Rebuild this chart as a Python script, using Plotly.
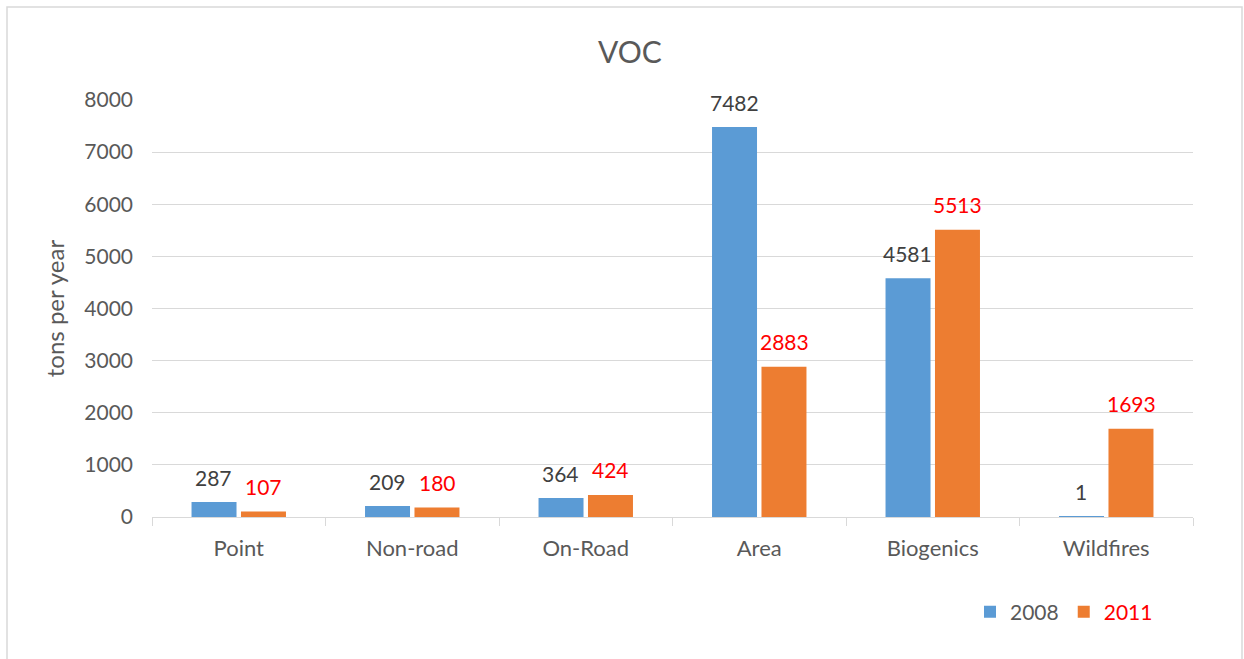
import plotly.graph_objects as go

categories = ["Point", "Non-road", "On-Road", "Area", "Biogenics", "Wildfires"]
series_2008 = [287, 209, 364, 7482, 4581, 1]
series_2011 = [107, 180, 424, 2883, 5513, 1693]
y_ticks = [0, 1000, 2000, 3000, 4000, 5000, 6000, 7000, 8000]

FONT = "Lato"
BLUE = "#5B9BD5"
ORANGE = "#ED7D31"
GREY = "#595959"
LINE = "#D9D9D9"

fig = go.Figure()
fig.add_trace(go.Bar(x=categories, y=series_2008, name="2008", marker_color=BLUE,
                     marker_line_width=0))
fig.add_trace(go.Bar(x=categories, y=series_2011,
                     name="<span style='color:#FF0000'>2011</span>",
                     marker_color=ORANGE, marker_line_width=0))

annotations = []
for c, v in zip(categories, series_2008):
    annotations.append(dict(x=c, y=v, xref="x", yref="y", text=str(v), showarrow=False,
                            xshift=-25, yshift=25, yanchor="middle",
                            font=dict(family=FONT, size=21, color="#404040")))
for c, v in zip(categories, series_2011):
    annotations.append(dict(x=c, y=v, xref="x", yref="y", text=str(v), showarrow=False,
                            xshift=25, yshift=25, yanchor="middle",
                            font=dict(family=FONT, size=21, color="#FF0000")))

W, H = 1244, 659
L, R, T, B = 152, 51, 100, 142
pw, ph = W - L - R, H - T - B

def px_x(x):
    return (x - L) / pw

def px_y(y):
    return (H - B - y) / ph

fig.update_layout(
    width=W, height=H,
    margin=dict(l=L, r=R, t=T, b=B),
    paper_bgcolor="white", plot_bgcolor="white",
    font=dict(family=FONT, color=GREY, size=21),
    title=dict(text="VOC", x=630 / W, xanchor="center", y=1 - 52 / H, yanchor="middle",
               font=dict(family=FONT, size=30, color=GREY)),
    barmode="group", bargap=0.43, bargroupgap=0.09,
    showlegend=True,
    legend=dict(orientation="h", x=px_x(970), xanchor="left", y=px_y(612), yanchor="middle",
                font=dict(family=FONT, size=21, color=GREY), itemwidth=30,
                bgcolor="rgba(0,0,0,0)"),
    annotations=annotations,
    shapes=[dict(type="rect", xref="paper", yref="paper",
                 x0=px_x(7), x1=px_x(1242), y0=px_y(672), y1=px_y(7),
                 line=dict(color=LINE, width=1.5), fillcolor="rgba(0,0,0,0)", layer="below")],
)

fig.update_xaxes(
    type="category", showgrid=False, showline=True, linecolor=LINE, linewidth=1,
    ticks="outside", tickson="boundaries", ticklen=8, tickcolor=LINE,
    tickfont=dict(family=FONT, size=22, color=GREY), ticklabelstandoff=12,
)
fig.update_yaxes(
    range=[0, 8000], tickvals=y_ticks, showgrid=True, gridcolor=LINE, gridwidth=1,
    showline=False, zeroline=False, ticks="",
    tickfont=dict(family=FONT, size=21, color=GREY), ticklabelstandoff=18,
    title=dict(text="tons per year", font=dict(family=FONT, size=24, color=GREY), standoff=12),
)

fig.write_html("out.html", config={"displayModeBar": False},
               post_script="document.body.style.margin='0';")
